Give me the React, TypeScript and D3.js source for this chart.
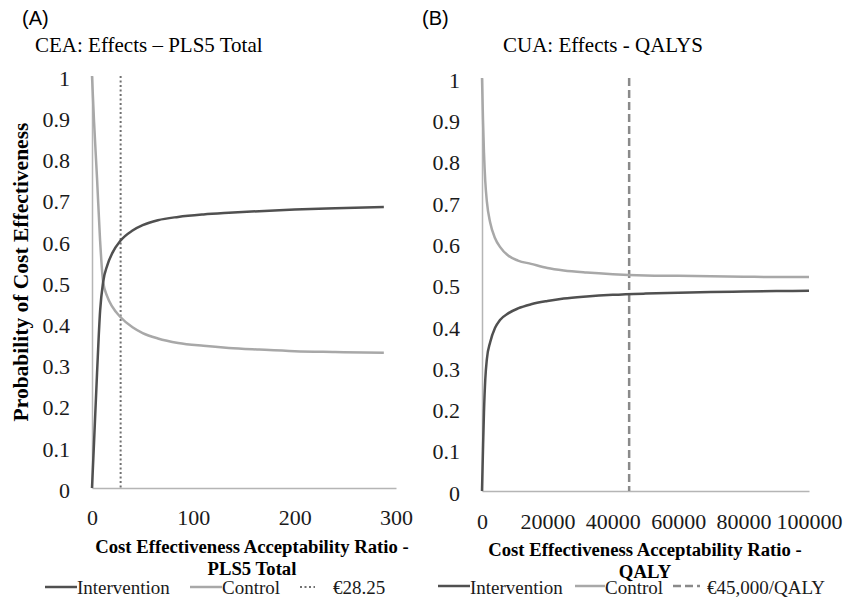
import React, { useEffect, useRef } from 'react'
import * as d3 from 'd3'

const WIDTH = 845
const HEIGHT = 601

const SERIES = ['Intervention', 'Control']
const Y_TICKS = [0, 0.1, 0.2, 0.3, 0.4, 0.5, 0.6, 0.7, 0.8, 0.9, 1]

// panel A - CEA, PLS5 total
const CEA_X = [0, 2, 5, 8, 11, 15, 20, 28, 40, 50, 65, 85, 110, 135, 165, 200, 240, 288]
const CEA_INTERVENTION = [0, 0.11, 0.28, 0.43, 0.5, 0.54, 0.57, 0.6, 0.625, 0.638, 0.65, 0.658, 0.664, 0.668, 0.672, 0.676, 0.679, 0.682]
const CEA_CONTROL = [1, 0.89, 0.75, 0.6, 0.5, 0.465, 0.44, 0.415, 0.39, 0.376, 0.363, 0.352, 0.345, 0.34, 0.336, 0.332, 0.33, 0.328]
const CEA_TICKS = [0, 100, 200, 300]
const CEA_THRESHOLD = 28.25

// panel B - CUA, QALYs
const CUA_X = [0, 300, 600, 1000, 1500, 2500, 4000, 5500, 8000, 11000, 15000, 20000, 25000, 32000, 40000, 50000, 60000, 70000, 80000, 90000, 100000]
const CUA_INTERVENTION = [0, 0.1, 0.19, 0.27, 0.32, 0.36, 0.395, 0.414, 0.43, 0.442, 0.452, 0.46, 0.466, 0.471, 0.475, 0.478, 0.48, 0.482, 0.483, 0.484, 0.485]
const CUA_CONTROL = [1, 0.9, 0.82, 0.75, 0.7, 0.65, 0.612, 0.591, 0.57, 0.558, 0.55, 0.54, 0.534, 0.529, 0.525, 0.522, 0.521, 0.52, 0.519, 0.518, 0.518]
const CUA_TICKS = [0, 20000, 40000, 60000, 80000, 100000]
const CUA_THRESHOLD = 45000

const COLORS = { Intervention: '#505050', Control: '#a8a8a8' }
const AXIS_COLOR = '#b5b5b5'
const SERIF = 'Liberation Serif'
const SANS = 'Liberation Sans'

const panels = [
  {
    tag: '(A)', tagX: 22, title: 'CEA: Effects \u2013 PLS5 Total', titleX: 35,
    left: 92, right: 396, top: 76, bottom: 488, xMax: 300,
    xs: CEA_X, values: [CEA_INTERVENTION, CEA_CONTROL], xTicks: CEA_TICKS, xPad: 21,
    threshold: CEA_THRESHOLD, thresholdLabel: '\u20ac28.25', dash: '2,2.5', thColor: '#707070', thWidth: 2,
    xTitle: ['Cost Effectiveness Acceptability Ratio -', 'PLS5 Total'], xTitleX: 252, xTitleY: 553, legendY: 587,
    legend: [45, 190, 300], legendEnd: [77, 222, 315], legendText: [77, 222, 333],
  },
  {
    tag: '(B)', tagX: 422, title: 'CUA: Effects - QALYS', titleX: 503,
    left: 482, right: 809, top: 78, bottom: 491, xMax: 100000,
    xs: CUA_X, values: [CUA_INTERVENTION, CUA_CONTROL], xTicks: CUA_TICKS, xPad: 22,
    threshold: CUA_THRESHOLD, thresholdLabel: '\u20ac45,000/QALY', dash: '8,4', thColor: '#8a8a8a', thWidth: 2.5,
    xTitle: ['Cost Effectiveness Acceptability Ratio -', 'QALY'], xTitleX: 645, xTitleY: 556, legendY: 586,
    legend: [438, 575, 673], legendEnd: [470, 605, 700], legendText: [470, 605, 707],
  },
]

export default function App() {
  const ref = useRef(null)

  const drawChart = () => {
    const svg = d3.select(ref.current)
    svg.selectAll('*').remove()

    svg.append('rect').attr('width', WIDTH).attr('height', HEIGHT).attr('fill', 'white')

    panels.forEach((p) => {
      const x = d3.scaleLinear().domain([0, p.xMax]).range([p.left, p.right])
      const y = d3.scaleLinear().domain([0, 1]).range([p.bottom, p.top])

      svg.append('text')
        .attr('x', p.tagX).attr('y', 25)
        .style('font-family', SANS).style('font-size', '20px')
        .text(p.tag)

      svg.append('text')
        .attr('x', p.titleX).attr('y', 52)
        .style('font-family', SERIF).style('font-size', '21px')
        .text(p.title)

      // axes
      const yAxis = svg.append('g')
        .attr('transform', `translate(${p.left},0)`)
        .call(d3.axisLeft(y).tickValues(Y_TICKS).tickFormat((d) => String(d)).tickSize(0).tickPadding(22))
      const xAxis = svg.append('g')
        .attr('transform', `translate(0,${p.bottom})`)
        .call(d3.axisBottom(x).tickValues(p.xTicks).tickFormat(d3.format('d')).tickSize(0).tickPadding(p.xPad))

      ;[xAxis, yAxis].forEach((a) => {
        a.select('.domain').attr('stroke', AXIS_COLOR).attr('stroke-width', 1.5)
        a.selectAll('text')
          .style('font-family', SERIF).style('font-size', '22px').attr('fill', '#1a1a1a')
      })
      yAxis.selectAll('text').attr('dy', '0.42em')

      // threshold
      svg.append('line')
        .attr('x1', x(p.threshold)).attr('x2', x(p.threshold))
        .attr('y1', p.top).attr('y2', p.bottom)
        .attr('stroke', p.thColor).attr('stroke-width', p.thWidth)
        .attr('stroke-dasharray', p.dash)

      const line = d3.line()
        .x((d) => x(d[0]))
        .y((d) => y(d[1]))
        .curve(d3.curveMonotoneX)

      ;[1, 0].forEach((si) => {
        svg.append('path')
          .datum(p.xs.map((v, i) => [v, p.values[si][i]]))
          .attr('d', line)
          .attr('fill', 'none')
          .attr('stroke', COLORS[SERIES[si]])
          .attr('stroke-width', 2.5)
      })

      // x axis title, two lines
      p.xTitle.forEach((t, i) => {
        svg.append('text')
          .attr('x', p.xTitleX).attr('y', p.xTitleY + i * 22)
          .attr('text-anchor', 'middle')
          .style('font-family', SERIF).style('font-weight', 'bold').style('font-size', '18.7px')
          .text(t)
      })

      // legend
      const items = [
        { label: SERIES[0], color: COLORS.Intervention, dash: null, w: 2.5 },
        { label: SERIES[1], color: COLORS.Control, dash: null, w: 2.5 },
        { label: p.thresholdLabel, color: p.thColor, dash: p.dash, w: p.thWidth },
      ]
      items.forEach((it, i) => {
        svg.append('line')
          .attr('x1', p.legend[i]).attr('x2', p.legendEnd[i])
          .attr('y1', p.legendY).attr('y2', p.legendY)
          .attr('stroke', it.color).attr('stroke-width', it.w)
          .attr('stroke-dasharray', it.dash)
        svg.append('text')
          .attr('x', p.legendText[i]).attr('y', 594)
          .style('font-family', SERIF).style('font-size', '19px').attr('fill', '#1a1a1a')
          .text(it.label)
      })
    })

    svg.append('text')
      .attr('transform', 'translate(28,272) rotate(-90)')
      .attr('text-anchor', 'middle')
      .style('font-family', SERIF).style('font-weight', 'bold').style('font-size', '21.5px')
      .text('Probability of Cost Effectiveness')
  }

  useEffect(() => {
    drawChart()
  }, [])

  return (
    <svg ref={ref} width={WIDTH} height={HEIGHT} style={{ position: 'absolute', left: 0, top: 0 }}></svg>
  )
}
